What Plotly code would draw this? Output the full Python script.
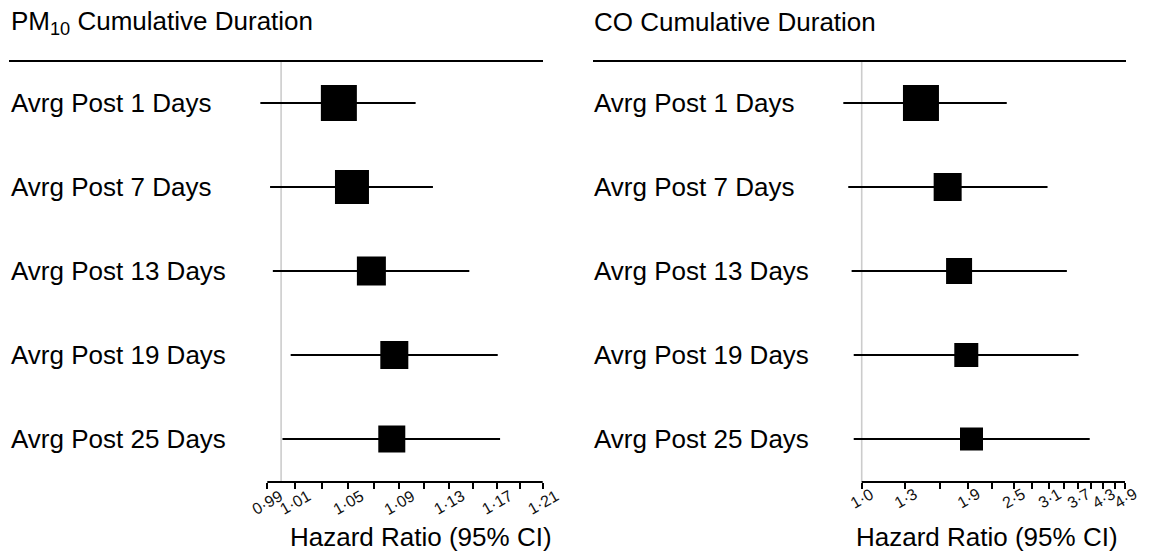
import math
import plotly.graph_objects as go

# ---------------- data ----------------
row_labels = ["Avrg Post 1 Days", "Avrg Post 7 Days", "Avrg Post 13 Days",
              "Avrg Post 19 Days", "Avrg Post 25 Days"]

pm10_hr = [1.043, 1.053, 1.068, 1.086, 1.084]
pm10_lo = [0.985, 0.992, 0.994, 1.007, 1.001]
pm10_hi = [1.103, 1.117, 1.147, 1.171, 1.173]

co_hr = [1.43, 1.68, 1.80, 1.88, 1.94]
co_lo = [0.895, 0.922, 0.941, 0.953, 0.953]
co_hi = [2.40, 3.07, 3.45, 3.70, 3.96]

pm10_ticks = [0.99, 1.01, 1.03, 1.05, 1.07, 1.09, 1.11, 1.13, 1.15, 1.17, 1.19, 1.21]
pm10_tick_labels = ["0·99", "1·01", "", "1·05", "", "1·09", "", "1·13", "", "1·17", "", "1·21"]

co_ticks = [1.0, 1.3, 1.6, 1.9, 2.2, 2.5, 2.8, 3.1, 3.4, 3.7, 4.0, 4.3, 4.6, 4.9]
co_tick_labels = ["1·0", "1·3", "", "1·9", "", "2·5", "", "3·1", "", "3·7", "", "4·3", "", "4·9"]

panel_titles = ["PM<sub>10</sub> Cumulative Duration", "CO Cumulative Duration"]
axis_title = "Hazard Ratio (95% CI)"
ref_value = 1.0

# ---------------- style ----------------
W, H = 1149, 559
FONT = "Liberation Sans, Arial, Helvetica, sans-serif"
TXT = 26
TICK_TXT = 16
pm10_box_px = [36, 34, 29, 28, 27]
co_box_px = [36, 28, 26, 24, 23]

def px(x):
    return x / W

def py(y):
    return 1 - y / H

y_top_px, y_axis_px = 61, 482
row_step = 84
first_row_px = 103
y_range = [1 + (y_axis_px - first_row_px) / row_step, 1 - (first_row_px - y_top_px) / row_step]
ydomain = [py(y_axis_px), py(y_top_px)]

rows = list(range(1, len(row_labels) + 1))


def log_axis(ticks, tick_px0, tick_px1, dom_px0, dom_px1):
    """Axis whose first/last ticks sit at tick_px0/tick_px1, with a wider domain."""
    l0, l1 = math.log10(ticks[0]), math.log10(ticks[-1])
    per_px = (l1 - l0) / (tick_px1 - tick_px0)
    rng = [l0 - (tick_px0 - dom_px0) * per_px, l1 + (dom_px1 - tick_px1) * per_px]
    return dict(domain=[px(dom_px0), px(dom_px1)], range=rng)


fig = go.Figure()

panels = [
    dict(xa="x", hr=pm10_hr, lo=pm10_lo, hi=pm10_hi, sizes=pm10_box_px),
    dict(xa="x2", hr=co_hr, lo=co_lo, hi=co_hi, sizes=co_box_px),
]

for p in panels:
    xs, ys = [], []
    for lo, hi, r in zip(p["lo"], p["hi"], rows):
        xs += [lo, hi, None]
        ys += [r, r, None]
    fig.add_trace(go.Scatter(x=xs, y=ys, mode="lines", xaxis=p["xa"], yaxis="y",
                             line=dict(color="black", width=2.2),
                             hoverinfo="skip", showlegend=False))
    fig.add_trace(go.Scatter(x=p["hr"], y=rows, mode="markers", xaxis=p["xa"], yaxis="y",
                             marker=dict(symbol="square", size=p["sizes"], color="black",
                                         opacity=1, line=dict(width=0)),
                             opacity=1, showlegend=False))

axis_common = dict(type="log", showgrid=False, zeroline=False, showline=False,
                   ticks="outside", ticklen=6, tickwidth=2, tickcolor="black",
                   showticklabels=False, anchor="y", fixedrange=True)

fig.update_layout(
    width=W, height=H, autosize=False,
    margin=dict(l=0, r=0, t=0, b=0),
    paper_bgcolor="white", plot_bgcolor="white",
    font=dict(family=FONT, color="black"),
    xaxis=dict(tickvals=pm10_ticks, **log_axis(pm10_ticks, 267.3, 542.7, 250, 547),
               **axis_common),
    xaxis2=dict(tickvals=co_ticks, **log_axis(co_ticks, 861.7, 1125.0, 835, 1130),
                **axis_common),
    yaxis=dict(domain=ydomain, range=y_range, visible=False, fixedrange=True),
)

shapes = []
for xa, ticks in [("x", pm10_ticks), ("x2", co_ticks)]:
    # reference line at HR = 1
    shapes.append(dict(type="line", xref=xa, yref="paper", x0=ref_value, x1=ref_value,
                       y0=ydomain[0], y1=ydomain[1], layer="below",
                       line=dict(color="#cccccc", width=1.6)))
    # axis line spanning the tick range only
    shapes.append(dict(type="line", xref=xa, yref="paper", x0=ticks[0], x1=ticks[-1],
                       y0=ydomain[0], y1=ydomain[0], line=dict(color="black", width=2)))
# top rules
for x0, x1 in [(9, 543), (593, 1126)]:
    shapes.append(dict(type="line", xref="paper", yref="paper", x0=px(x0), x1=px(x1),
                       y0=py(y_top_px), y1=py(y_top_px), line=dict(color="black", width=2)))
fig.update_layout(shapes=shapes)

ann = []
# titles
for t, x in zip(panel_titles, [9, 592]):
    ann.append(dict(text=t, xref="paper", yref="paper", x=px(x), y=py(22), xanchor="left",
                    yanchor="middle", showarrow=False, font=dict(size=TXT, family=FONT)))
# row labels
for x in [9, 592]:
    for lab, r in zip(row_labels, rows):
        ann.append(dict(text=lab, xref="paper", yref="y", x=px(x), y=r, xanchor="left",
                        yanchor="middle", showarrow=False, font=dict(size=TXT, family=FONT)))
# tick labels (centred, rotated)
for xa, ticks, labs, yc in [("x", pm10_ticks, pm10_tick_labels, 502),
                            ("x2", co_ticks, co_tick_labels, 498)]:
    for t, lab in zip(ticks, labs):
        if lab:
            ann.append(dict(text=lab, xref=xa, yref="paper", x=math.log10(t), y=py(yc),
                            xanchor="center", yanchor="middle", textangle=-30,
                            showarrow=False,
                            font=dict(size=TICK_TXT, family=FONT, color="#111111")))
# axis titles
for x in [420.5, 987.5]:
    ann.append(dict(text=axis_title, xref="paper", yref="paper", x=px(x), y=py(537),
                    xanchor="center", yanchor="middle", showarrow=False,
                    font=dict(size=TXT, family=FONT)))
fig.update_layout(annotations=ann)

fig.write_html("out.html")
